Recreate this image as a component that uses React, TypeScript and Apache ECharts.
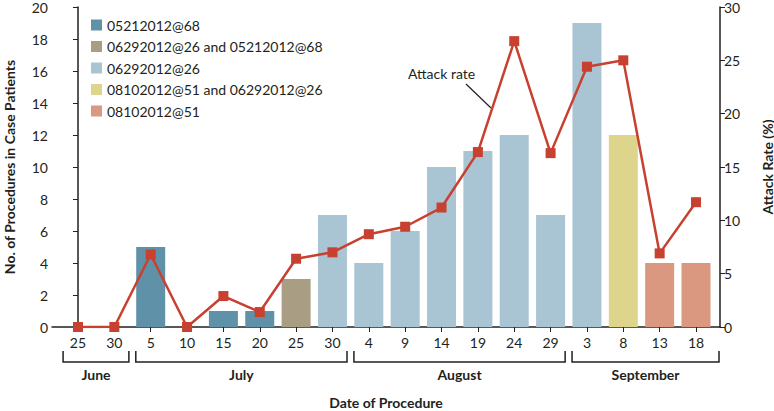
import React, { useEffect, useRef } from "react";
import * as echarts from "echarts";

const dayLabels = ["25", "30", "5", "10", "15", "20", "25", "30", "4", "9", "14", "19", "24", "29", "3", "8", "13", "18"];
const months = [
  { name: "June", from: 0, to: 1 },
  { name: "July", from: 2, to: 7 },
  { name: "August", from: 8, to: 13 },
  { name: "September", from: 14, to: 17 },
];
const seriesNames = [
  "05212012@68",
  "06292012@26 and 05212012@68",
  "06292012@26",
  "08102012@51 and 06292012@26",
  "08102012@51",
];
const seriesColors = ["#5f91a8", "#a99d83", "#a9c4d3", "#ddd58b", "#d9987f"];
// procedures per category, by outbreak strain group (null = not in this group)
const procedures: (number | null)[][] = [
  [0, 0, 5, 0, 1, 1, null, null, null, null, null, null, null, null, null, null, null, null],
  [null, null, null, null, null, null, 3, null, null, null, null, null, null, null, null, null, null, null],
  [null, null, null, null, null, null, null, 7, 4, 6, 10, 11, 12, 7, 19, null, null, null],
  [null, null, null, null, null, null, null, null, null, null, null, null, null, null, null, 12, null, null],
  [null, null, null, null, null, null, null, null, null, null, null, null, null, null, null, null, 4, 4],
];
const attackRate = [0, 0, 6.8, 0, 2.9, 1.4, 6.4, 7.0, 8.7, 9.4, 11.2, 16.4, 26.8, 16.3, 24.4, 25.0, 6.9, 11.7];

const X_MIN = -0.715;
const X_MAX = 17.66;
const FONT = "Lato, 'Open Sans', sans-serif";
const INK = "#231f20";

export default function App() {
  const ref = useRef<HTMLDivElement>(null);
  useEffect(() => {
    if (!ref.current) return;
    document.body.style.margin = "0";
    const chart = echarts.init(ref.current, undefined, { renderer: "svg" });
    const idx = dayLabels.map((_, i) => i);
    const barSeries = procedures.map((arr, s) => ({
      type: "bar",
      name: seriesNames[s],
      xAxisIndex: 0,
      yAxisIndex: 0,
      barWidth: 29,
      barGap: "-100%",
      itemStyle: { color: seriesColors[s] },
      data: arr.map((v, i) => (v === null ? null : [i, v])).filter((d) => d !== null),
      z: 2,
    }));
    chart.setOption({
      animation: false,
      textStyle: { fontFamily: FONT, color: INK },
      grid: { left: 52, right: 54, top: 7, bottom: 84, containLabel: false, outerBoundsMode: "none" },
      legend: {
        orient: "vertical",
        left: 86,
        top: 13,
        itemWidth: 11,
        itemHeight: 11,
        itemGap: 7.5,
        icon: "rect",
        data: seriesNames,
        textStyle: { fontFamily: FONT, fontSize: 14, color: INK },
        selectedMode: false,
      },
      xAxis: {
        type: "value",
        min: X_MIN,
        max: X_MAX,
        splitLine: { show: false },
        axisLine: { show: true, onZero: false, lineStyle: { color: INK, width: 1.5 } },
        axisTick: { show: true, customValues: idx, length: 5, lineStyle: { color: INK } },
        axisLabel: {
          customValues: idx,
          formatter: (v: number) => dayLabels[Math.round(v)] ?? "",
          fontSize: 14,
          color: INK,
          margin: 8,
          fontFamily: FONT,
        },
      },
      yAxis: [
        {
          type: "value",
          min: 0,
          max: 20,
          interval: 2,
          name: "No. of Procedures in Case Patients",
          nameLocation: "middle",
          nameGap: 36,
          nameTextStyle: { fontWeight: "bold", fontSize: 14, color: INK, fontFamily: FONT },
          splitLine: { show: false },
          axisLine: { show: true, lineStyle: { color: INK, width: 1.5 } },
          axisTick: { show: true, length: 5, lineStyle: { color: INK } },
          axisLabel: { fontSize: 14, color: INK, margin: 4, fontFamily: FONT },
        },
        {
          type: "value",
          min: 0,
          max: 30,
          interval: 5,
          position: "right",
          name: "Attack Rate (%)",
          nameLocation: "middle",
          nameGap: 40,
          nameTextStyle: { fontWeight: "bold", fontSize: 14, color: INK, fontFamily: FONT },
          splitLine: { show: false },
          axisLine: { show: true, lineStyle: { color: INK, width: 1.5 } },
          axisTick: { show: true, length: 5, lineStyle: { color: INK } },
          axisLabel: { fontSize: 14, color: INK, margin: 4, fontFamily: FONT },
        },
      ],
      series: [
        ...barSeries,
        {
          type: "line",
          name: "Attack rate",
          xAxisIndex: 0,
          yAxisIndex: 1,
          data: attackRate.map((v, i) => [i, v]),
          symbol: "rect",
          symbolSize: 10,
          lineStyle: { color: "#c8402f", width: 2.5 },
          itemStyle: { color: "#c8402f" },
          z: 5,
        },
      ],
    });

    const px = (v: number) => chart.convertToPixel({ xAxisIndex: 0 }, v) as number;
    const yTop = 351;
    const yBot = 362;
    const graphics: any[] = [];
    months.forEach((m, k) => {
      const x0 = px(m.from - 0.41);
      const x1 = k === months.length - 1 ? px(X_MAX) - 1 : px(m.to + 0.4);
      graphics.push({
        type: "polyline",
        shape: { points: [[x0, yTop], [x0, yBot], [x1, yBot], [x1, yTop]] },
        style: { stroke: INK, lineWidth: 1.5, fill: null },
        silent: true,
      });
      graphics.push({
        type: "text",
        x: (x0 + x1) / 2,
        y: 374,
        style: {
          text: m.name,
          font: `bold 14px ${FONT}`,
          fill: INK,
          align: "center",
          verticalAlign: "middle",
        },
      });
    });
    graphics.push({
      type: "text",
      x: 386,
      y: 402,
      style: {
        text: "Date of Procedure",
        font: `bold 14px ${FONT}`,
        fill: INK,
        align: "center",
        verticalAlign: "middle",
      },
    });
    graphics.push({
      type: "text",
      x: 408,
      y: 73,
      style: { text: "Attack rate", font: `14px ${FONT}`, fill: INK, align: "left", verticalAlign: "middle" },
    });
    graphics.push({
      type: "line",
      shape: { x1: 466, y1: 84, x2: 491, y2: 108 },
      style: { stroke: INK, lineWidth: 1.2 },
    });
    chart.setOption({ graphic: graphics });

    return () => chart.dispose();
  }, []);
  return <div ref={ref} style={{ width: 774, height: 411 }} />;
}
